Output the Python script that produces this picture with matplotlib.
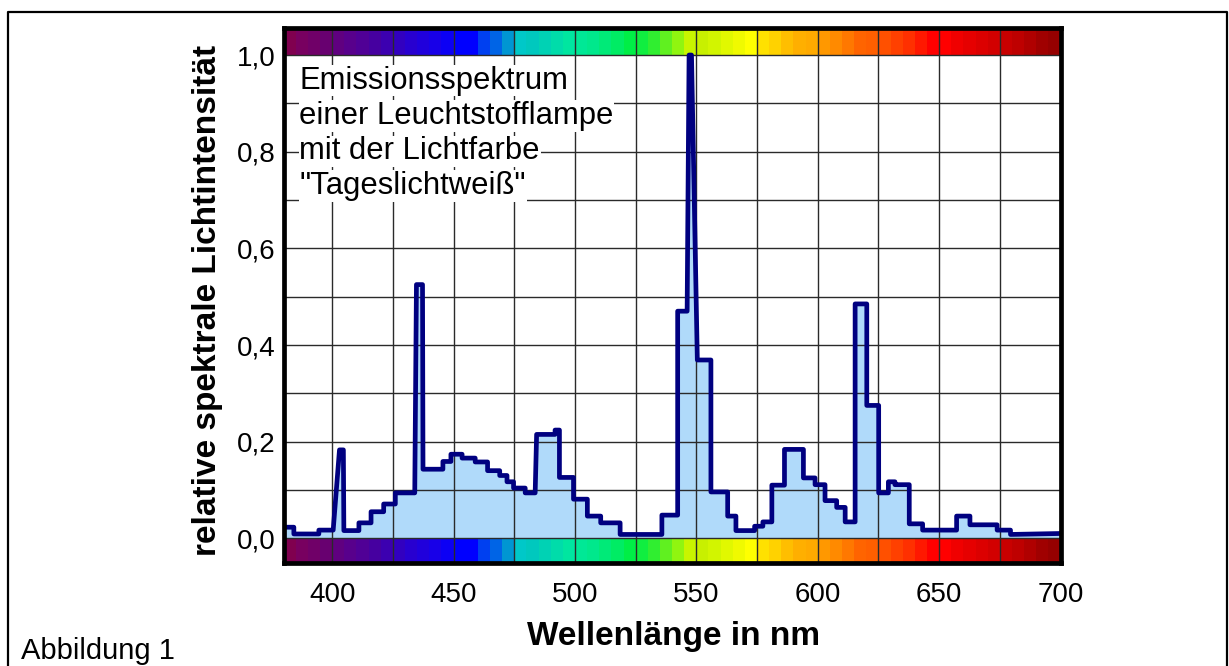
import numpy as np
import matplotlib
matplotlib.use('Agg')
import matplotlib.pyplot as plt
from matplotlib.lines import Line2D
from matplotlib.ticker import MultipleLocator

plt.rcParams['font.family'] = ['Liberation Sans', 'DejaVu Sans']

# Eckpunkte der Spektralkurve (nm, relative Intensitaet)
wavelength = [380, 384.2, 384.2, 394.5, 394.5, 400.4, 403.0, 404.6, 404.8, 411.0,
              411.0, 416.0, 416.0, 421.2, 421.2, 426.0, 426.0, 434.0, 434.7, 437.2,
              437.4, 445.6, 445.6, 448.9, 448.9, 453.5, 453.5, 458.9, 458.9, 464.0,
              464.0, 469.0, 469.0, 472.0, 472.0, 474.7, 474.7, 479.5, 479.5, 483.6,
              484.2, 491.8, 491.8, 493.6, 493.6, 499.4, 499.4, 505.1, 505.1, 510.6,
              510.6, 518.6, 518.6, 535.8, 535.8, 542.3, 542.3, 546.2, 547.0, 548.0,
              550.4, 556.0, 556.0, 562.9, 562.9, 566.3, 566.3, 574.0, 574.0, 577.4,
              577.4, 581.1, 581.1, 586.3, 586.3, 594.1, 594.1, 598.9, 598.9, 603.0,
              603.0, 607.8, 607.8, 611.3, 611.3, 615.4, 615.4, 620.2, 620.2, 625.1,
              625.1, 629.1, 629.1, 631.8, 631.8, 637.7, 637.7, 643.2, 643.2, 657.2,
              657.2, 662.7, 662.7, 673.9, 673.9, 679.4, 679.4, 700]
intensity = [0.023, 0.023, 0.009, 0.009, 0.017, 0.017, 0.183, 0.183, 0.016, 0.016,
             0.032, 0.032, 0.055, 0.055, 0.071, 0.071, 0.094, 0.094, 0.525, 0.525,
             0.143, 0.143, 0.159, 0.159, 0.174, 0.174, 0.166, 0.166, 0.158, 0.158,
             0.140, 0.140, 0.130, 0.130, 0.117, 0.117, 0.104, 0.104, 0.094, 0.094,
             0.215, 0.215, 0.224, 0.224, 0.126, 0.126, 0.081, 0.081, 0.046, 0.046,
             0.032, 0.032, 0.008, 0.008, 0.048, 0.048, 0.470, 0.470, 1.000, 1.000,
             0.369, 0.369, 0.096, 0.096, 0.046, 0.046, 0.016, 0.016, 0.025, 0.025,
             0.034, 0.034, 0.110, 0.110, 0.184, 0.184, 0.125, 0.125, 0.111, 0.111,
             0.078, 0.078, 0.064, 0.064, 0.034, 0.034, 0.485, 0.485, 0.275, 0.275,
             0.094, 0.094, 0.117, 0.117, 0.111, 0.111, 0.030, 0.030, 0.017, 0.017,
             0.046, 0.046, 0.028, 0.028, 0.017, 0.017, 0.008, 0.010]

x_ticks = [400, 450, 500, 550, 600, 650, 700]
y_ticks = [0.0, 0.2, 0.4, 0.6, 0.8, 1.0]
y_tick_labels = ['0,0', '0,2', '0,4', '0,6', '0,8', '1,0']

title_lines = ['Emissionsspektrum', 'einer Leuchtstofflampe',
               'mit der Lichtfarbe', '"Tageslichtweiß"']

# Farbstreifen oben und unten, 5-nm-Bloecke von 380 bis 700 nm
band_colors = ['#80004f', '#780060', '#700068', '#680070', '#600080', '#58008c',
               '#500096', '#4600a0', '#3c00b0', '#3200c0', '#2800d0', '#2000dc',
               '#1800e8', '#0c00f4', '#0000ff', '#0000ff', '#0040f0', '#0064e6',
               '#0096d2', '#00c8c8', '#00c8be', '#00d2b4', '#00dcaa', '#00e6a0',
               '#00e896', '#00e88c', '#00ea78', '#00ec64', '#00ee46', '#10ee40',
               '#30ee30', '#60f020', '#90f510', '#c8f500', '#c8f000', '#d2f500',
               '#e1f800', '#f0fa00', '#ffff00', '#ffe100', '#ffd200', '#ffbe00',
               '#ffaf00', '#ffaa00', '#ff9800', '#ff8a00', '#ff7800', '#ff6400',
               '#ff5f00', '#ff5000', '#ff4000', '#ff3000', '#ff1800', '#ff0000',
               '#ff0000', '#f00000', '#e60000', '#dc0000', '#d20000', '#c80000',
               '#be0000', '#b00000', '#a00000', '#960000']

x_min, x_max = 380, 700
y_min, y_max = -0.051, 1.056

fig = plt.figure(figsize=(12.29, 6.66), dpi=100)
ax = fig.add_axes([0.2308, 0.1547, 0.6321, 0.8033])

# Farbstreifen
band_edges = np.linspace(x_min, x_max, len(band_colors) + 1)
ax.bar(band_edges[:-1], y_max - 1.0, width=np.diff(band_edges), bottom=1.0,
       align='edge', color=band_colors, linewidth=0, zorder=1)
ax.bar(band_edges[:-1], 0 - y_min, width=np.diff(band_edges), bottom=y_min,
       align='edge', color=band_colors, linewidth=0, zorder=1)

ax.fill_between(wavelength, intensity, 0, color='#b0dafa', linewidth=0, zorder=1.5)
ax.plot(wavelength, intensity, color='#000080', lw=3.4, solid_joinstyle='round',
        solid_capstyle='butt', zorder=3)

ax.set_xlim(x_min, x_max)
ax.set_ylim(y_min, y_max)
ax.set_xticks(x_ticks)
ax.xaxis.set_minor_locator(MultipleLocator(25))
ax.set_yticks(y_ticks)
ax.set_yticklabels(y_tick_labels)
ax.yaxis.set_minor_locator(MultipleLocator(0.1))
ax.set_axisbelow(False)
ax.grid(True, which='both', color='#2a2a2a', lw=1.0)
ax.tick_params(which='both', length=0)
ax.tick_params(axis='x', labelsize=20, pad=14)
ax.tick_params(axis='y', labelsize=20, pad=6)
for s in ax.spines.values():
    s.set_linewidth(3.4)
    s.set_zorder(6)

# Beschriftung im Diagramm, jede Zeile mit weissem Hintergrund
for txt, yy in zip(title_lines, [0.947, 0.874, 0.801, 0.729]):
    ax.text(386.5, yy, txt, fontsize=22.3, va='center', ha='left', zorder=5,
            bbox=dict(facecolor='white', edgecolor='none', pad=0.5))

fig.text(674 / 1229, 1 - 637 / 666, 'Wellenlänge in nm', fontsize=24,
         fontweight='bold', ha='center', va='center')
fig.text(208 / 1229, 1 - 300 / 666, 'relative spektrale Lichtintensität',
         fontsize=24, fontweight='bold', ha='center', va='center', rotation=90)
fig.text(21 / 1229, 7 / 666, 'Abbildung 1', fontsize=21, ha='left', va='baseline')

# Rahmen um die ganze Abbildung
fx0, fx1, fy1 = 8 / 1229, 1227 / 1229, 1 - 12 / 666
fig.add_artist(Line2D([fx0, fx0, fx1, fx1], [0, fy1, fy1, 0],
                      transform=fig.transFigure, color='black', lw=1.6))

fig.savefig('out.png', dpi=100)
